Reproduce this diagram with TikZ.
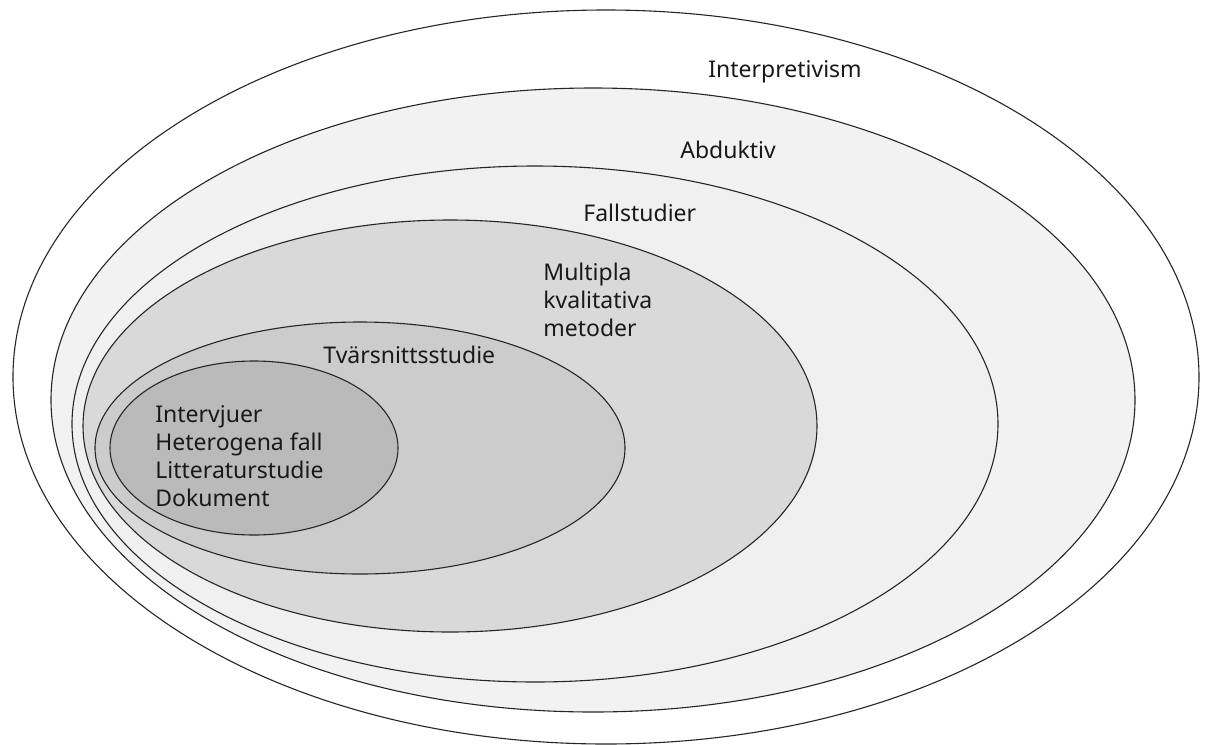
\documentclass[tikz,border=0pt]{standalone}
\usepackage{fontspec}
\setmainfont{Noto Sans}
\usetikzlibrary{shapes.geometric, positioning}
\tikzset{
	ring/.style={ellipse, draw=black!85, line width=0.55pt, inner sep=0pt},
	txt/.style={anchor=west, inner sep=0pt, align=left, text=black!90, font=\fontsize{11.5pt}{14pt}\selectfont}
}
\begin{document}
\begin{tikzpicture}[x=0.5pt, y=-0.5pt]
		\useasboundingbox (0,0) rectangle (1206,745);
		
		\node[ring, fill=white, minimum width=593pt, minimum height=367pt] (interp) at (606,377) {};
		\node[ring, fill=black!5, minimum width=542pt, minimum height=312pt] (abd) at (593,400) {};
		\node[ring, fill=black!6, minimum width=463pt, minimum height=258pt] (fall) at (535,424) {};
		\node[ring, fill=black!15, minimum width=367pt, minimum height=206pt] (multi) at (450,426) {};
		\node[ring, fill=black!20, minimum width=265pt, minimum height=126pt] (tvar) at (360,448) {};
		\node[ring, fill=black!27, minimum width=144pt, minimum height=87pt] (data) at (254,448) {};
		
		\node[txt] (interp-lbl) at (708,72) {Interpretivism};
		\node[txt] (abd-lbl) at (680,150) {Abduktiv};
		\node[txt] (fall-lbl) at (583,213) {Fallstudier};
		\node[txt] (multi-lbl) at (543,300) {Multipla\\kvalitativa\\metoder};
		\node[txt] (tvar-lbl) at (323,355) {Tvärsnittsstudie};
		\node[txt] (data-lbl) at (155,456) {Intervjuer\\Heterogena fall\\Litteraturstudie\\Dokument};
		
	\end{tikzpicture}
\end{document}
